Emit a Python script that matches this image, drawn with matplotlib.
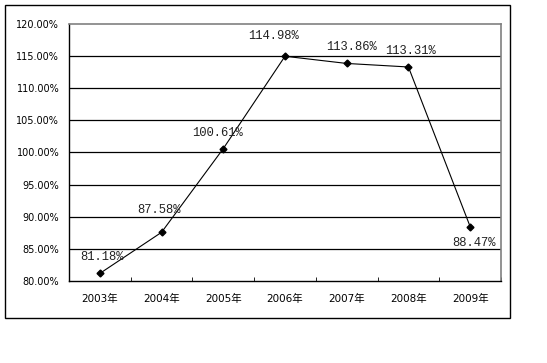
import matplotlib.pyplot as plt
from matplotlib.patches import Rectangle

years = ["2003年", "2004年", "2005年", "2006年", "2007年", "2008年", "2009年"]
values = [81.18, 87.58, 100.61, 114.98, 113.86, 113.31, 88.47]
labels = ["81.18%", "87.58%", "100.61%", "114.98%", "113.86%", "113.31%", "88.47%"]
# label offsets in points (dx, dy)
offsets = [(1.5, 11.5), (-2, 16), (-4.5, 11.5), (-8, 14.4), (3.5, 12), (1.5, 11.5), (3, -12)]

plt.rcParams['font.family'] = ['DejaVu Sans', 'Noto Sans CJK SC']

fig = plt.figure(figsize=(5.47, 3.63), dpi=100)
fig.patches.append(Rectangle((5 / 547, 1 - 318 / 363), 505 / 547, 313 / 363,
                             transform=fig.transFigure, fill=False,
                             edgecolor='black', linewidth=1))
ax = fig.add_axes([69 / 547, 1 - 281 / 363, 432 / 547, 257 / 363])

x = list(range(len(years)))
ax.plot(x, values, color='black', linewidth=0.8, marker='D', markersize=3.5)

ax.set_xlim(-0.5, len(years) - 0.5)
ax.set_ylim(80, 120)
yt = [80 + 5 * i for i in range(9)]
ax.set_yticks(yt)
ax.set_yticklabels(["%.2f%%" % v for v in yt], fontsize=7)
ax.set_xticks(x)
ax.set_xticklabels(years, fontsize=7.5)
ax.set_xticks([i - 0.5 for i in range(len(years) + 1)], minor=True)
ax.tick_params(axis='x', which='major', length=0, pad=9)
ax.tick_params(axis='x', which='minor', length=3, direction='in', color='black')
ax.tick_params(axis='y', length=0, pad=7)

for v in yt[1:-1]:
    ax.axhline(v, color='black', linewidth=0.9, zorder=0)

ax.spines['top'].set_color('gray')
ax.spines['right'].set_color('gray')
ax.spines['top'].set_linewidth(1.2)
ax.spines['right'].set_linewidth(1.2)
ax.spines['left'].set_linewidth(1)
ax.spines['bottom'].set_linewidth(1)

for xi, v, lab, (dx, dy) in zip(x, values, labels, offsets):
    ax.annotate(lab, (xi, v), xytext=(dx, dy), textcoords='offset points',
                ha='center', va='center', fontsize=8.7, color='#222222',
                family='Liberation Mono')

fig.savefig("out.png", dpi=100)
